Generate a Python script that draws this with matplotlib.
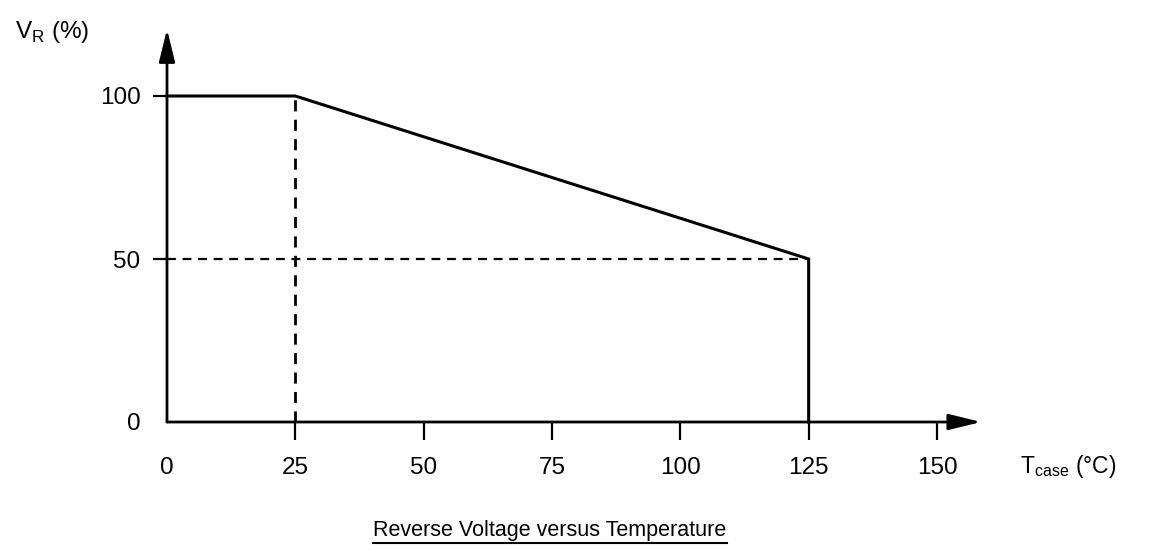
import numpy as np
import matplotlib
matplotlib.use("Agg")
import matplotlib.pyplot as plt
from matplotlib.lines import Line2D

plt.rcParams['font.family'] = ['Liberation Sans', 'DejaVu Sans']

# derating curve: case temperature (°C) vs allowed reverse voltage (%)
temp = [0, 25, 125, 125]
vr = [100, 100, 50, 0]

x_ticks = [0, 25, 50, 75, 100, 125, 150]
y_ticks = [0, 50, 100]
knee_t = 25
end_t = 125
end_v = 50

W, H = 1152, 551
fig = plt.figure(figsize=(W / 100, H / 100), dpi=100)
# origin at pixel (167, 422), x=150 at 937, y=100 at 96
ax = fig.add_axes([167 / W, (H - 422) / H, (937 - 167) / W, (422 - 96) / H])
ax.set_xlim(0, 150)
ax.set_ylim(0, 100)
for s in ax.spines.values():
    s.set_visible(False)

fs = 17.5
ax.set_xticks(x_ticks)
ax.set_xticklabels([str(t) for t in x_ticks], fontsize=fs)
ax.set_yticks(y_ticks)
ax.set_yticklabels([str(t) for t in y_ticks], fontsize=fs)
ax.tick_params(axis='x', direction='out', length=13, width=1.6, pad=12)
ax.tick_params(axis='y', direction='out', length=10, width=1.6, pad=9)
ax.xaxis.get_major_ticks()[0].tick1line.set_visible(False)
ax.yaxis.get_major_ticks()[0].tick1line.set_visible(False)

# axes with arrows
arr = dict(arrowstyle="-|>,head_length=1.1,head_width=0.27", lw=2,
           color='k', mutation_scale=18, shrinkA=0, shrinkB=0)
ax.annotate("", xy=(158.6, 0), xytext=(0, 0), arrowprops=arr,
            annotation_clip=False)
ax.annotate("", xy=(0, 120.5), xytext=(0, 0), arrowprops=arr,
            annotation_clip=False)

# curve
ax.plot(temp, vr, color='k', lw=2.2, solid_joinstyle='miter', clip_on=False)
# dashed guides
ax.plot([knee_t, knee_t], [0, 100], color='k', lw=2, ls=(0, (4, 3)), clip_on=False)
ax.plot([0, end_t], [end_v, end_v], color='k', lw=1.6, ls=(0, (4, 3)), clip_on=False)

# axis labels
fig.text(15 / W, 1 - 32 / H, r"V$_\mathregular{R}$ (%)", fontsize=fs, va='center', ha='left')
fig.text(1020 / W, 1 - 466 / H, r"T$_\mathregular{case}$ (°C)", fontsize=16.5, va='center', ha='left')

t = fig.text(550 / W, 1 - 536 / H, "Reverse Voltage versus Temperature",
             fontsize=15.5, ha='center', va='baseline')
fig.canvas.draw()
bb = t.get_window_extent()
yline = bb.y0 - 2
fig.add_artist(Line2D([bb.x0 / W, bb.x1 / W], [yline / H, yline / H],
                      color='k', lw=1.5, transform=fig.transFigure))

fig.savefig("out.png", dpi=100)
